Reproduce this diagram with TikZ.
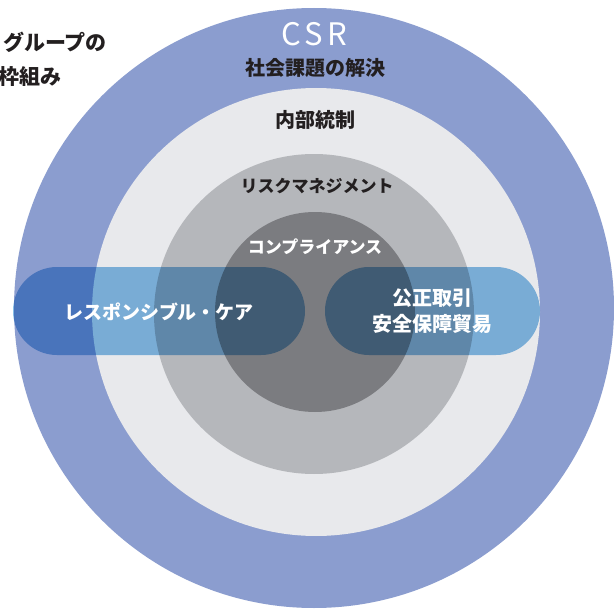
\documentclass[tikz,border=0pt]{standalone}
\usepackage{fontspec}
\setmainfont{Noto Sans CJK JP}
\definecolor{outerblue}{HTML}{8B9DCF}
\definecolor{lightring}{HTML}{E8E9EC}
\definecolor{grayring}{HTML}{B5B7BB}
\definecolor{darkcore}{HTML}{7B7C80}
\definecolor{pillblue}{HTML}{86BDE7}
\definecolor{ink}{HTML}{231F20}
\tikzset{
  darklabel/.style={text=ink, font=\bfseries\fontsize{19}{22}\selectfont, inner sep=0pt, anchor=center},
  whitelabel/.style={text=white, font=\bfseries\fontsize{19}{22}\selectfont, inner sep=0pt, anchor=center},
  pill/.style={fill=pillblue, blend mode=multiply, rounded corners=44pt},
}
\begin{document}
\begin{tikzpicture}[x=1pt, y=-1pt]
\useasboundingbox (0,0) rectangle (614,610);
\clip (0,0) rectangle (614,610);
\fill[white] (0,0) rectangle (614,610);
% rings
\fill[outerblue] (314,308) circle (300);
\fill[lightring] (316,312) circle (224);
\fill[grayring] (314,314) circle (160);
\fill[darkcore] (315,312) circle (100);
% pills
\fill[pill] (13,267) rectangle (305,355);
\fill[pill] (325,267) rectangle (540,355);
% labels
\node[text=white, font=\fontsize{31}{34}\selectfont, inner sep=0pt] (csr) at (314,34) {C\hspace{4pt}S\hspace{4pt}R};
\node[darklabel, font=\bfseries\fontsize{20}{22}\selectfont] (social) at (315,67.5) {社会課題の解決};
\node[darklabel, font=\bfseries\fontsize{20}{22}\selectfont] (internal) at (315,120) {内部統制};
\node[darklabel, font=\bfseries\fontsize{17}{20}\selectfont] (risk) at (317,186) {リスクマネジメント};
\node[whitelabel, font=\bfseries\fontsize{17}{20}\selectfont] (comp) at (315,247) {コンプライアンス};
\node[whitelabel] (rc) at (159,312) {レスポンシブル・ケア};
\node[whitelabel, font=\bfseries\fontsize{20}{22}\selectfont] (fair) at (432,298) {公正取引};
\node[whitelabel, font=\bfseries\fontsize{20}{22}\selectfont] (trade) at (432,324) {安全保障貿易};
\node[darklabel, font=\bfseries\fontsize{21}{24}\selectfont, anchor=east] (title1) at (107,42) {グループの};
\node[darklabel, font=\bfseries\fontsize{21}{24}\selectfont, anchor=east] (title2) at (62,77) {枠組み};
\end{tikzpicture}
\end{document}
